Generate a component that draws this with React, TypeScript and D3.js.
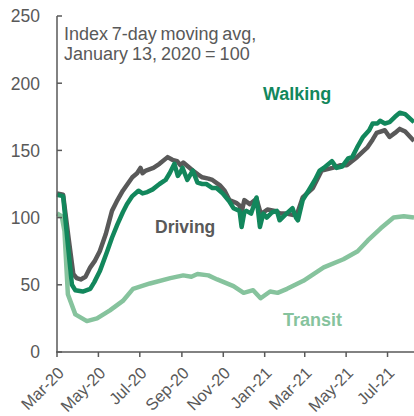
import React from 'react';
import * as d3 from 'd3';

const width = 414;
const height = 416;
const margin = { top: 16, right: 0, bottom: 64, left: 57 };
const grey = '#595959';
const green = '#12875c';
const lightGreen = '#86c39d';

// x domain runs past the last tick, chart is cut at the right edge
const xDomain = ['2020-03-01', '2021-08-09'];
const yTicks = [0, 50, 100, 150, 200, 250];

const walking: [string, number][] = [
  ['2020-03-01', 117], ['2020-03-10', 116], ['2020-03-17', 80], ['2020-03-23', 50], ['2020-03-28', 46],
  ['2020-04-08', 45], ['2020-04-19', 47], ['2020-04-25', 52], ['2020-05-03', 60], ['2020-05-14', 75],
  ['2020-05-21', 85], ['2020-05-29', 95], ['2020-06-06', 104], ['2020-06-12', 110], ['2020-06-20', 116],
  ['2020-06-29', 120], ['2020-07-05', 118], ['2020-07-12', 119], ['2020-07-20', 121], ['2020-07-30', 125],
  ['2020-08-08', 128], ['2020-08-14', 133], ['2020-08-21', 140], ['2020-08-26', 131], ['2020-08-30', 134],
  ['2020-09-02', 137], ['2020-09-09', 128], ['2020-09-17', 135], ['2020-09-24', 126], ['2020-10-01', 125],
  ['2020-10-07', 125], ['2020-10-16', 122], ['2020-10-22', 122], ['2020-10-31', 118], ['2020-11-10', 112],
  ['2020-11-16', 107], ['2020-11-25', 105], ['2020-11-28', 93], ['2020-12-02', 104], ['2020-12-05', 105],
  ['2020-12-12', 103], ['2020-12-20', 115], ['2020-12-25', 93], ['2020-12-30', 103], ['2021-01-04', 100],
  ['2021-01-12', 104], ['2021-01-19', 105], ['2021-01-23', 98], ['2021-02-02', 103], ['2021-02-11', 107],
  ['2021-02-16', 100], ['2021-02-19', 98], ['2021-02-26', 113], ['2021-03-09', 122], ['2021-03-16', 128],
  ['2021-03-23', 135], ['2021-03-29', 137], ['2021-04-10', 142], ['2021-04-17', 137], ['2021-04-25', 138],
  ['2021-05-04', 144], ['2021-05-10', 145], ['2021-05-17', 152], ['2021-05-26', 160], ['2021-06-04', 165],
  ['2021-06-09', 170], ['2021-06-16', 170], ['2021-06-20', 172], ['2021-06-27', 170], ['2021-07-04', 171],
  ['2021-07-12', 175], ['2021-07-19', 178], ['2021-07-27', 177], ['2021-08-09', 171],
];

const driving: [string, number][] = [
  ['2020-03-01', 118], ['2020-03-10', 117], ['2020-03-18', 85], ['2020-03-25', 58], ['2020-03-30', 55],
  ['2020-04-05', 54], ['2020-04-12', 56], ['2020-04-19', 63], ['2020-04-26', 68], ['2020-05-03', 75],
  ['2020-05-12', 88], ['2020-05-21', 105], ['2020-05-28', 112], ['2020-06-06', 120], ['2020-06-13', 125],
  ['2020-06-20', 130], ['2020-06-27', 133], ['2020-07-02', 137], ['2020-07-05', 133], ['2020-07-10', 135],
  ['2020-07-21', 137], ['2020-07-30', 140], ['2020-08-11', 145], ['2020-08-18', 143], ['2020-08-25', 142],
  ['2020-08-30', 139], ['2020-09-03', 141], ['2020-09-10', 138], ['2020-09-17', 135], ['2020-09-25', 132],
  ['2020-10-01', 130], ['2020-10-10', 129], ['2020-10-16', 128], ['2020-10-27', 124], ['2020-11-03', 120],
  ['2020-11-10', 113], ['2020-11-20', 111], ['2020-11-25', 109], ['2020-11-28', 104], ['2020-12-02', 113],
  ['2020-12-10', 110], ['2020-12-20', 114], ['2020-12-25', 105], ['2020-12-28', 103], ['2021-01-05', 106],
  ['2021-01-16', 105], ['2021-01-24', 103], ['2021-02-02', 103], ['2021-02-11', 102], ['2021-02-18', 103],
  ['2021-02-26', 115], ['2021-03-13', 122], ['2021-03-26', 135], ['2021-04-11', 137], ['2021-04-23', 139],
  ['2021-05-02', 139], ['2021-05-17', 145], ['2021-06-01', 152], ['2021-06-09', 158], ['2021-06-15', 163],
  ['2021-06-27', 165], ['2021-07-04', 160], ['2021-07-12', 163], ['2021-07-19', 166], ['2021-07-27', 164],
  ['2021-08-09', 157],
];

const transit: [string, number][] = [
  ['2020-03-01', 103], ['2020-03-08', 101], ['2020-03-12', 90], ['2020-03-17', 43], ['2020-03-28', 28],
  ['2020-04-14', 23], ['2020-04-29', 25], ['2020-05-18', 31], ['2020-06-06', 38], ['2020-06-21', 47],
  ['2020-07-16', 51], ['2020-08-15', 55], ['2020-09-03', 57], ['2020-09-15', 56], ['2020-09-24', 58],
  ['2020-10-10', 57], ['2020-10-23', 54], ['2020-11-16', 49], ['2020-12-01', 44], ['2020-12-15', 46],
  ['2020-12-26', 40], ['2021-01-09', 45], ['2021-01-20', 44], ['2021-02-03', 47], ['2021-02-27', 53],
  ['2021-03-29', 63], ['2021-04-27', 69], ['2021-05-18', 75], ['2021-06-02', 83], ['2021-06-21', 92],
  ['2021-07-10', 100], ['2021-07-25', 101], ['2021-08-09', 100],
];

const parse = d3.timeParse('%Y-%m-%d');
const fmt = d3.timeFormat('%b-%y');

const xScale = d3.scaleTime()
  .domain(xDomain.map(d => parse(d) as Date))
  .range([margin.left, width - margin.right]);
const yScale = d3.scaleLinear().domain([0, 250]).range([height - margin.bottom, margin.top]);

const lineGenerator = d3.line<[string, number]>()
  .x(d => xScale(parse(d[0]) as Date))
  .y(d => yScale(d[1]));

const xTicks = d3.timeMonth.every(2)!.range(parse('2020-03-01') as Date, parse('2021-08-01') as Date);

export default function App() {
  const font = 'Liberation Sans, Arial, sans-serif';
  const y0 = yScale(0);
  return (
    <svg width={width} height={height} style={{ position: 'absolute', left: 0, top: 0 }} fontFamily={font}>
      <path d={lineGenerator(transit)!} fill='none' stroke={lightGreen} strokeWidth='4.5' strokeLinejoin='round' />
      <path d={lineGenerator(driving)!} fill='none' stroke={grey} strokeWidth='4.5' strokeLinejoin='round' />
      <path d={lineGenerator(walking)!} fill='none' stroke={green} strokeWidth='4.5' strokeLinejoin='round' />

      {/* y axis, ticks point inward */}
      <line x1={margin.left} x2={margin.left} y1={yScale(250)} y2={y0} stroke={grey} strokeWidth='1.5' />
      {yTicks.map(t => (
        <g key={t}>
          <line x1={margin.left} x2={margin.left + 5} y1={yScale(t)} y2={yScale(t)} stroke={grey} strokeWidth='1.5' />
          <text x={40} y={yScale(t)} dy='0.36em' textAnchor='end' fontSize='17.5' fill={grey}>{t}</text>
        </g>
      ))}

      {/* x axis */}
      <line x1={margin.left - 1} x2={width} y1={y0} y2={y0} stroke={grey} strokeWidth='1.5' />
      {xTicks.map(t => (
        <g key={+t}>
          <line x1={xScale(t)} x2={xScale(t)} y1={y0} y2={y0 + 5} stroke={grey} strokeWidth='1.5' />
          <text transform={`translate(${xScale(t) + 8}, ${y0 + 22}) rotate(-45)`} textAnchor='end'
            fontSize='16.5' fill={grey}>{fmt(t)}</text>
        </g>
      ))}

      <text x={64} y={40} fontSize='18' fill={grey} wordSpacing='-1.3'>Index 7-day moving avg,</text>
      <text x={64} y={60} fontSize='18' fill={grey} wordSpacing='-1'>January 13, 2020 = 100</text>

      <text x={263} y={100} fontSize='18' fontWeight='bold' fill={green}>Walking</text>
      <text x={155} y={233} fontSize='17.5' fontWeight='bold' fill={grey}>Driving</text>
      <text x={283} y={326} fontSize='18' fontWeight='bold' fill={lightGreen}>Transit</text>
    </svg>
  );
}
